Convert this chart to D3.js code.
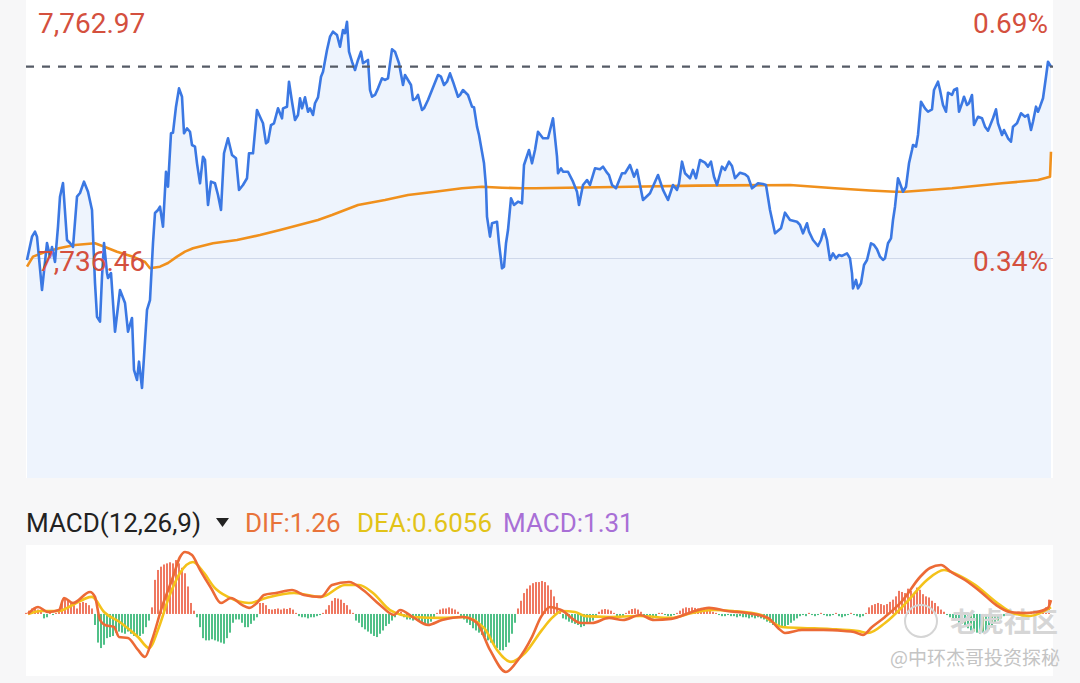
<!DOCTYPE html>
<html><head><meta charset="utf-8">
<script src="https://cdn.jsdelivr.net/npm/d3@7"></script>
<style>html,body{margin:0;padding:0;background:#f7f7f8;} svg{display:block;font-family:Roboto,"Noto Sans",sans-serif;}</style>
</head><body><svg id="c" width="1080" height="683"></svg>
<script>
// ---- data ----
const priceT = [1,6,9,11,16,21,24,26,29,32,34,37,41,44,47,51,54,58,62,66,69,71,74,76,78,81,82,85,89,94,99,102,106,108,111,113,116,121,124,127,129,132,134,137,140,142,145,147,150,153,156,158,161,164,166,169,171,174,177,179,182,185,189,192,195,198,202,206,210,213,217,221,223,227,231,234,237,240,242,245,248,252,256,257,261,263,266,269,272,274,276,279,282,284,287,289,292,295,297,301,304,307,311,314,317,319,321,323,326,329,332,335,337,342,344,346,349,352,356,359,362,366,369,373,377,379,382,385,387,390,392,396,398,402,406,412,415,418,421,424,427,432,434,437,442,446,448,451,453,458,460,461,464,466,471,473,476,478,480,482,485,488,492,496,498,503,506,509,512,517,522,527,531,532,535,537,542,547,551,553,557,561,564,569,574,577,581,583,586,590,596,599,604,608,611,617,624,632,637,642,647,651,653,656,659,664,667,670,674,679,682,685,688,691,696,699,703,706,709,714,719,722,726,728,732,737,740,744,749,755,759,764,771,774,777,781,783,787,792,795,798,801,804,807,810,813,816,821,824,826,827,830,832,835,838,841,845,848,851,854,857,859,862,865,867,869,872,874,877,880,883,886,887,890,892,895,899,902,906,908,912,914,917,920,922,926,928,931,933,936,938,941,943,946,948,952,956,959,962,965,967,970,972,976,978,982,985,987,991,995,999,1002,1005,1007,1010,1012,1014,1017,1020,1022,1025];
const priceV = [7736.31,7738.70,7739.21,7738.70,7733.23,7738.05,7736.61,7737.64,7736.10,7739.72,7742.80,7744.20,7738.36,7738.05,7737.64,7742.80,7743.18,7744.34,7743.31,7741.43,7733.95,7730.49,7729.98,7734.59,7738.05,7734.97,7734.46,7734.97,7728.95,7733.23,7731.90,7728.95,7730.36,7725.03,7724.00,7725.88,7723.18,7731.18,7732.20,7738.05,7741.13,7741.43,7741.77,7739.72,7745.36,7743.82,7749.30,7749.36,7752.03,7753.91,7753.05,7749.30,7749.81,7749.46,7748.10,7747.93,7746.22,7744.17,7746.90,7746.56,7741.95,7744.34,7744.17,7742.97,7741.43,7747.25,7748.79,7747.07,7746.74,7743.49,7744.00,7744.69,7747.25,7747.25,7751.69,7751.00,7750.33,7748.27,7748.44,7750.15,7750.33,7751.86,7750.84,7751.86,7752.03,7754.59,7752.54,7750.66,7751.18,7752.89,7751.86,7752.99,7751.51,7751.86,7751.18,7752.38,7752.99,7755.10,7755.62,7757.84,7759.21,7759.72,7759.38,7758.18,7759.89,7759.56,7760.74,7757.67,7756.64,7755.79,7756.82,7757.67,7756.48,7756.82,7753.74,7753.05,7753.23,7753.91,7754.94,7754.77,7754.94,7757.91,7757.67,7756.48,7754.25,7755.28,7754.77,7754.25,7752.71,7752.89,7753.23,7751.69,7751.86,7752.71,7753.74,7755.28,7755.10,7754.25,7754.59,7755.45,7754.59,7753.05,7753.23,7753.74,7753.23,7752.03,7751.97,7749.98,7749.13,7746.22,7743.82,7740.75,7738.70,7740.07,7740.23,7738.02,7735.45,7735.62,7738.02,7739.38,7742.63,7741.95,7742.29,7742.12,7746.05,7747.59,7746.22,7747.59,7749.46,7748.79,7748.79,7750.84,7746.90,7745.20,7745.71,7745.36,7745.36,7744.34,7743.31,7741.95,7744.00,7744.51,7744.00,7745.71,7745.61,7745.88,7745.26,7745.02,7744.00,7743.66,7745.20,7745.20,7746.05,7744.85,7745.54,7742.46,7743.15,7745.02,7743.49,7742.46,7744.00,7743.49,7744.17,7746.39,7745.20,7744.69,7745.54,7744.69,7746.56,7746.29,7745.88,7746.39,7744.85,7744.00,7745.88,7745.54,7746.39,7745.95,7744.69,7745.26,7745.10,7744.85,7743.66,7743.82,7744.17,7744.10,7744.00,7741.43,7739.04,7739.56,7741.16,7740.41,7740.23,7739.90,7739.04,7740.07,7739.21,7738.36,7737.74,7738.36,7739.45,7738.36,7736.31,7736.99,7736.48,7736.82,7736.72,7736.99,7736.48,7734.94,7733.40,7734.26,7733.40,7733.92,7735.79,7736.31,7738.02,7737.85,7737.40,7736.65,7736.31,7736.48,7738.02,7738.53,7740.41,7741.77,7744.69,7744.17,7743.31,7743.82,7746.22,7747.59,7748.10,7747.93,7749.13,7752.54,7751.86,7751.51,7751.76,7753.74,7754.59,7753.74,7752.20,7751.51,7753.46,7753.23,7753.74,7753.91,7751.51,7752.38,7753.05,7752.20,7752.38,7753.23,7750.15,7751.00,7750.84,7749.98,7749.57,7750.33,7750.84,7751.76,7750.33,7749.13,7749.64,7748.79,7748.44,7749.98,7750.33,7751.35,7751.00,7751.18,7749.64,7750.49,7752.03,7751.51,7752.03,7752.89,7755.10,7756.64,7756.13];
const avgT = [1,7,19,34,49,69,79,91,107,119,124,134,142,151,159,167,187,211,234,254,292,306,332,359,382,409,436,456,476,496,509,604,671,764,809,844,869,879,926,976,1012,1024,1025];
const avgV = [7735.62,7736.65,7737.13,7737.54,7737.85,7738.02,7737.64,7737.16,7736.65,7736.10,7735.46,7735.62,7736.00,7736.65,7737.16,7737.51,7738.02,7738.36,7738.87,7739.38,7740.41,7740.92,7741.95,7742.46,7742.97,7743.31,7743.66,7743.82,7743.72,7743.66,7743.66,7743.82,7743.93,7744.00,7743.66,7743.43,7743.31,7743.31,7743.66,7744.17,7744.51,7744.85,7747.41];
const valueTicks = [7762.97, 7736.46];
const valueLabels = ["7,762.97", "7,736.46"];
const pctLabels = ["0.69%", "0.34%"];
const sessionLength = 1026;

const difT = [2,12,22,33,38,47,64,69,74,79,88,93,102,112,119,126,136,147,154,159,166,174,185,195,205,216,223,231,238,250,266,278,295,306,323,337,354,368,374,388,402,416,437,451,464,480,492,506,515,524,535,555,566,583,597,614,628,645,666,683,701,721,742,752,759,776,797,818,828,837,846,859,877,894,904,915,925,939,956,970,984,998,1011,1022,1025];
const difV = [0,0.64,0.18,0.36,1.45,1.0,2.0,1.55,-0.55,-1.0,-1.18,-2.09,-2.18,-3.27,-3.91,-2.36,0.64,3.36,5.18,5.64,5.36,4.0,2.36,1.0,1.45,0.82,0.55,1.0,1.73,1.91,2.18,1.73,1.55,2.64,2.91,2.18,0.82,-0.09,0.36,-0.36,-1.0,-0.55,-0.27,-0.82,-3.27,-5.27,-4.18,-2.09,-0.27,0.64,0.36,-0.82,-0.82,-0.36,-0.55,-0.09,-0.55,-0.45,0.18,0.55,0.27,0.09,-0.36,-1.27,-1.73,-1.45,-1.45,-1.55,-1.64,-1.91,-1.18,-0.27,1.27,3.36,4.18,4.45,3.82,3.09,1.91,0.82,0.18,0.09,0.18,0.55,1.26];
const deaT = [2,15,33,43,66,78,95,112,123,133,143,154,167,178,188,202,223,240,268,295,319,333,347,364,388,416,437,458,471,485,499,516,526,536,549,560,583,614,645,666,687,707,735,756,776,804,832,842,859,880,901,918,932,949,970,987,1004,1025];
const deaV = [0,0.27,0.27,0.64,1.55,0.18,-0.82,-2.09,-3.09,-1.18,1.55,3.73,4.73,3.73,2.45,1.55,1.0,1.45,1.91,1.55,2.64,2.64,1.91,0.36,-0.27,-0.36,-0.27,-1.27,-3.27,-4.36,-3.55,-1.45,-0.36,0.27,0.18,-0.2,-0.27,-0.18,-0.36,0.09,0.36,0.27,-0.09,-1.18,-1.27,-1.36,-1.55,-1.73,-0.82,1.0,3.09,4.0,3.55,2.64,1.09,0.09,-0.18,0.61];
// histogram, one bar every histStep units starting at t = 0
const histStep = 3;
const histV = [0.1,0.3,0.5,0.6,0.4,0.2,-0.4,-0.3,0.1,-0.1,0.1,0.3,1.2,1.45,1.2,1.0,0.8,0.5,1.0,1.1,1.0,0.8,0.5,-1.0,-2.6,-3.1,-2.8,-2.2,-2.1,-2.0,-1.7,-1.6,-1.7,-1.8,-1.6,-1.8,-2.0,-2.1,-2.0,-1.8,-1.2,-0.6,0.6,3.1,4.0,4.3,4.5,4.6,4.7,4.6,4.9,4.6,4.2,3.7,2.5,1.0,0.3,-0.3,-1.2,-2.2,-2.4,-2.4,-2.3,-2.4,-2.5,-2.6,-2.7,-2.2,-1.7,-0.8,-0.5,-0.5,-0.8,-1.2,-1.2,-0.9,-0.6,-0.3,1.0,1.0,0.8,0.45,0.4,0.45,0.5,0.4,0.5,0.45,0.55,0.4,0.1,-0.2,-0.3,-0.3,-0.4,-0.3,-0.3,-0.2,-0.1,0.1,0.4,0.8,1.2,1.45,1.4,1.3,1.0,0.8,0.4,0.1,-0.6,-0.8,-1.2,-1.4,-1.6,-1.8,-2.0,-2.1,-1.8,-1.5,-1.1,-0.9,-0.6,-0.3,0.2,0.2,-0.3,-0.5,-0.5,-0.6,-0.5,-0.6,-0.8,-0.9,-0.9,-0.7,-0.3,0.1,0.4,0.5,0.5,0.6,0.5,0.4,0.2,-0.2,-0.5,-0.8,-1.0,-1.3,-1.5,-1.7,-1.9,-2.1,-2.4,-2.6,-2.9,-3.1,-3.3,-3.3,-3.0,-2.6,-1.8,-0.8,0.5,1.2,1.9,2.3,2.6,2.8,2.9,2.9,3.0,2.9,2.6,2.2,1.6,1.0,0.2,-0.4,-0.5,-0.7,-0.8,-0.9,-1.0,-1.2,-1.1,-0.9,-0.8,-0.6,-0.2,0.2,0.4,0.45,0.4,0.3,0.1,-0.2,-0.3,-0.2,0.1,0.3,0.45,0.5,0.4,0.2,-0.2,-0.3,-0.4,-0.4,-0.3,0.1,0.1,-0.1,-0.2,-0.2,-0.1,0.1,0.3,0.5,0.6,0.55,0.6,0.55,0.5,0.55,0.5,0.4,0.3,0.2,0.1,-0.1,-0.2,-0.2,-0.1,-0.2,-0.2,-0.3,-0.2,-0.3,-0.3,-0.4,-0.3,-0.4,-0.3,-0.4,-0.5,-0.7,-0.8,-1.0,-1.1,-1.2,-1.2,-1.1,-1.0,-0.8,-0.6,-0.4,-0.2,-0.1,-0.2,0.1,-0.1,-0.2,-0.1,0.1,-0.1,-0.2,-0.2,-0.1,0.1,-0.2,-0.3,-0.2,-0.1,0.1,-0.1,-0.2,-0.3,-0.2,0.1,0.6,0.8,0.9,1.0,0.9,0.8,0.9,1.1,1.3,1.6,2.1,2.0,1.9,2.3,2.1,1.9,2.4,2.2,1.8,1.6,1.5,1.2,1.0,0.7,0.4,0.2,-0.1,-0.3,-0.4,-0.6,-0.8,-0.9,-1.1,-1.3,-1.5,-1.6,-1.7,-1.8,-1.7,-1.6,-1.4,-1.2,-0.9,-0.6,-0.4,-0.2,-0.1,0.1,-0.1,0.1,0.2,0.1,0.2,0.1,0.2,0.2,0.2,0.3,0.4,0.6,1.3];
const legendParts = [
  {text: "DIF:1.26", color: "#e8733a"},
  {text: "DEA:0.6056", color: "#e2c318"},
  {text: "MACD:1.31", color: "#a86fd6"}
];
const macdTitle = "MACD(12,26,9)";
const watermark = ["老虎社区", "@中环杰哥投资探秘"];

// ---- drawing ----
const svg = d3.select("#c");
const L = 26, R = 1053;
const mainTop = 0, mainBot = 478;
const macdTop = 545, macdBot = 676;

svg.append("rect").attr("x", L).attr("y", mainTop).attr("width", R - L).attr("height", mainBot - mainTop).attr("fill", "#ffffff");
svg.append("rect").attr("x", L).attr("y", macdTop).attr("width", R - L).attr("height", macdBot - macdTop).attr("fill", "#ffffff");

const x = d3.scaleLinear().domain([0, sessionLength]).range([L, R - 1]);
const y = d3.scaleLinear().domain([7713.95, 7762.97]).range([mainBot, mainTop]);

const price = priceT.map((t, i) => [t, priceV[i]]);
const avg = avgT.map((t, i) => [t, avgV[i]]);

svg.append("path").datum(price)
  .attr("d", d3.area().x(d => x(d[0])).y0(mainBot).y1(d => y(d[1])))
  .attr("fill", "#eef4fd");

svg.append("line").attr("x1", L).attr("x2", R).attr("y1", y(valueTicks[1])).attr("y2", y(valueTicks[1]))
  .attr("stroke", "#cfd8ea").attr("stroke-width", 1);

svg.append("path").datum(avg)
  .attr("d", d3.line().x(d => x(d[0])).y(d => y(d[1])))
  .attr("fill", "none").attr("stroke", "#f0901c").attr("stroke-width", 2.6).attr("stroke-linejoin", "round");

svg.append("path").datum(price)
  .attr("d", d3.line().x(d => x(d[0])).y(d => y(d[1])))
  .attr("fill", "none").attr("stroke", "#3b78e3").attr("stroke-width", 2.6).attr("stroke-linejoin", "round");

const last = priceV[priceV.length - 1];
svg.append("line").attr("x1", L).attr("x2", R).attr("y1", y(last)).attr("y2", y(last))
  .attr("stroke", "#555b66").attr("stroke-width", 2.2).attr("stroke-dasharray", "8,8");

const lblColor = "#d4503e";
svg.append("text").attr("x", 38).attr("y", y(valueTicks[0]) + 33).attr("fill", lblColor)
  .attr("font-size", 28).text(valueLabels[0]);
svg.append("text").attr("x", 1048).attr("y", y(valueTicks[0]) + 33).attr("fill", lblColor)
  .attr("font-size", 28).attr("text-anchor", "end").text(pctLabels[0]);
svg.append("text").attr("x", 38).attr("y", y(valueTicks[1]) + 12).attr("fill", lblColor)
  .attr("font-size", 28).text(valueLabels[1]);
svg.append("text").attr("x", 1048).attr("y", y(valueTicks[1]) + 12).attr("fill", lblColor)
  .attr("font-size", 28).attr("text-anchor", "end").text(pctLabels[1]);

// MACD legend
const leg = svg.append("g").attr("font-size", 26);
leg.append("text").attr("x", 26).attr("y", 532).attr("fill", "#222").text(macdTitle);
leg.append("path").attr("d", "M216,518 L229,518 L222.5,527 Z").attr("fill", "#222");
const legX = [245, 357, 503];
legendParts.forEach((p, i) => {
  leg.append("text").attr("x", legX[i]).attr("y", 532).attr("fill", p.color).text(p.text);
});

// MACD panel
const ym = d3.scaleLinear().domain([-5.64, 6.27]).range([macdBot, macdTop]);
const hist = histV.map((v, i) => [i * histStep, v]);
svg.append("g").selectAll("rect").data(hist).join("rect")
  .attr("x", d => x(d[0]) - 0.9)
  .attr("width", 1.8)
  .attr("y", d => d[1] >= 0 ? ym(d[1]) : ym(0))
  .attr("height", d => Math.abs(ym(d[1]) - ym(0)))
  .attr("fill", d => d[1] >= 0 ? "#ee6a50" : "#3dba7c");

const wm = svg.append("g");
wm.append("circle").attr("cx", 921).attr("cy", 621).attr("r", 16).attr("fill", "none").attr("stroke", "#d5d5d5").attr("stroke-width", 2);
wm.append("text").attr("x", 950).attr("y", 632).attr("font-size", 27).attr("font-weight", "bold").attr("fill", "#d6d6d6")
  .attr("font-family", "'Noto Sans CJK SC'").text(watermark[0]);
wm.append("text").attr("x", 1060).attr("y", 665).attr("font-size", 19).attr("fill", "#c4c4c4")
  .attr("text-anchor", "end").attr("font-family", "'Noto Sans CJK SC'").text(watermark[1]);

const dea = deaT.map((t, i) => [t, deaV[i]]);
const dif = difT.map((t, i) => [t, difV[i]]);
svg.append("path").datum(dea)
  .attr("d", d3.line().curve(d3.curveMonotoneX).x(d => x(d[0])).y(d => ym(d[1])))
  .attr("fill", "none").attr("stroke", "#f4c21a").attr("stroke-width", 2.6);
svg.append("path").datum(dif)
  .attr("d", d3.line().curve(d3.curveMonotoneX).x(d => x(d[0])).y(d => ym(d[1])))
  .attr("fill", "none").attr("stroke", "#ec6a36").attr("stroke-width", 2.6);
</script></body></html>
